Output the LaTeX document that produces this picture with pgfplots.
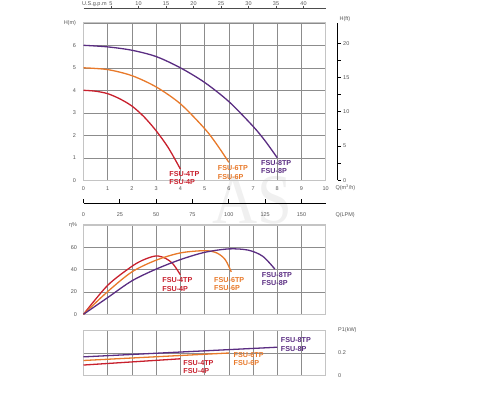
\documentclass[border=0pt]{standalone}
\usepackage{fontspec}
\setmainfont{Liberation Sans}
\newfontfamily\wmfont{Liberation Serif}
\usepackage{pgfplots}
\pgfplotsset{compat=1.18}
\definecolor{cred}{HTML}{C8202D}
\definecolor{corg}{HTML}{E8792A}
\definecolor{cpur}{HTML}{5A2D82}
\definecolor{tickc}{HTML}{555555}
\definecolor{gridc}{HTML}{8C8C8C}
\definecolor{boxc}{HTML}{C4C4C4}
\tikzset{
 lbl/.style={font=\bfseries\fontsize{7.2}{8.2}\selectfont, align=left, anchor=west, inner sep=0pt},
 curve/.style={line width=1.3pt, smooth},
}
\pgfplotsset{
 base/.style={scale only axis, width=242.2pt, xmin=0, xmax=10, xtick={0,...,10},
   grid=major, major grid style={gridc, line width=0.6pt},
   axis line style={boxc, line width=1.2pt}, major tick length=0pt,
   tick label style={font=\fontsize{5.5}{6}\selectfont, text=tickc},
   /pgf/number format/assume math mode=true, clip=false},
 tks/.style={tick label style={font=\fontsize{5.5}{6}\selectfont, text=tickc},
   /pgf/number format/assume math mode=true},
}
\begin{document}
\begin{tikzpicture}
\path[use as bounding box] (0,0) rectangle (500pt,400pt);
\node[text=black!6, font=\wmfont\fontsize{71}{71}\selectfont, xscale=0.88] at (252pt,200pt) {AS};

% ---------- H-Q chart ----------
\begin{axis}[base, at={(83.5pt,219.7pt)}, anchor=south west, height=157.5pt,
  ymin=0, ymax=7, ytick={0,...,7}, yticklabels={0,1,2,3,4,5,6,H(m)},
  yticklabel style={xshift=-4pt}, xticklabel style={yshift=-2.5pt}]
\addplot[curve, cred] coordinates {(0,4)(0.5,3.96)(1,3.85)(1.5,3.62)(2,3.3)(2.5,2.82)(3,2.2)(3.5,1.45)(4,0.5)};
\addplot[curve, corg] coordinates {(0,5)(1,4.92)(2,4.65)(3,4.15)(4,3.4)(5,2.3)(5.5,1.6)(6,0.8)};
\addplot[curve, cpur] coordinates {(0,6)(1,5.93)(2,5.78)(3,5.5)(4,5.0)(5,4.35)(6,3.5)(7,2.4)(7.5,1.75)(8,1.0)};
\node[lbl, text=cred] at (axis cs:3.54,0.1) {FSU-4TP\\FSU-4P};
\node[lbl, text=corg] at (axis cs:5.54,0.35) {FSU-6TP\\FSU-6P};
\node[lbl, text=cpur] at (axis cs:7.33,0.59) {FSU-8TP\\FSU-8P};
\end{axis}

% ---------- H(ft) right axis ----------
\begin{axis}[scale only axis, tks, at={(83.5pt,219.7pt)}, anchor=south west,
  width=254.2pt, height=157.5pt, xmin=0, xmax=1, ymin=0, ymax=22.966,
  axis x line=none, axis y line=right, axis line style={black, line width=1pt, -},
  ytick={0,5,10,15,20}, minor ytick={2.5,7.5,12.5,17.5}, tick align=outside,
  major tick length=3pt, minor tick length=3pt, tick style={black, line width=0.5pt},
  yticklabel style={xshift=-1pt}]
\end{axis}
\node[font=\fontsize{5.5}{6}\selectfont, text=tickc, anchor=west] at (336pt,381pt) {H(ft)};

% ---------- U.S. gpm top axis ----------
\begin{axis}[scale only axis, tks, at={(83.5pt,392pt)}, anchor=north west,
  width=242.2pt, height=1pt, xmin=0, xmax=44.03, ymin=0, ymax=1,
  axis y line=none, axis x line=top, axis line style={black!70, line width=0.6pt, -},
  xtick={5,10,...,40}, tick align=outside, major tick length=2.5pt,
  tick style={black!70, line width=0.5pt}, xticklabel style={yshift=-4pt}]
\end{axis}
\node[font=\fontsize{5.5}{6}\selectfont, text=tickc, anchor=west, inner sep=0pt] at (82pt,395.5pt) {U.S.g.p.m};

% ---------- LPM axis ----------
\begin{axis}[scale only axis, tks, at={(83.5pt,196.7pt)}, anchor=south west,
  width=242.2pt, height=1pt, xmin=0, xmax=166.67, ymin=0, ymax=1,
  axis y line=none, axis x line=bottom, axis line style={black, line width=1.3pt, -},
  xtick={0,25,...,150}, tick align=inside, major tick length=4pt,
  tick style={black, line width=0.8pt}, xticklabel style={yshift=-6pt}]
\end{axis}
\node[font=\fontsize{5.5}{6}\selectfont, text=tickc, anchor=west] at (332pt,212pt) {Q(m\textsuperscript{3}/h)};
\node[font=\fontsize{5.5}{6}\selectfont, text=tickc, anchor=west] at (332pt,185pt) {Q(LPM)};

% ---------- efficiency ----------
\begin{axis}[base, at={(83.5pt,85.7pt)}, anchor=south west, height=89.3pt,
  ymin=0, ymax=80, ytick={0,20,...,80}, yticklabels={0,20,40,60,η\%},
  yticklabel style={xshift=-3pt}, xticklabels={}]
\addplot[curve, cred] coordinates {(0,0)(1,26)(2,43)(2.5,49)(3,52.3)(3.4,50)(3.7,45)(4,35.4)};
\addplot[curve, corg] coordinates {(0,0)(1,20.4)(2,38)(3,48.5)(4,55)(5,57)(5.5,55)(5.85,49)(6.1,38)};
\addplot[curve, cpur] coordinates {(0,0)(1,15)(2,30)(3,40.5)(4,49)(5,55.5)(6,58.6)(6.8,57.5)(7.4,52)(7.9,40.5)};
\node[lbl, text=cred] at (axis cs:3.25,26.7) {FSU-4TP\\FSU-4P};
\node[lbl, text=corg] at (axis cs:5.39,27.3) {FSU-6TP\\FSU-6P};
\node[lbl, text=cpur] at (axis cs:7.36,31.3) {FSU-8TP\\FSU-8P};
\end{axis}

% ---------- power ----------
\begin{axis}[base, at={(83.5pt,24.3pt)}, anchor=south west, height=45.4pt,
  ymin=0, ymax=0.4, ytick={0,0.2,0.4}, yticklabels={0,0.2,P1(kW)},
  yticklabel pos=right, yticklabel style={xshift=9pt, anchor=west}, xticklabels={}]
\addplot[line width=1.3pt, cred] coordinates {(0,0.094)(4,0.149)};
\addplot[line width=1.3pt, corg] coordinates {(0,0.134)(6,0.2)};
\addplot[line width=1.3pt, cpur] coordinates {(0,0.166)(8,0.251)};
\node[lbl, text=cred] at (axis cs:4.12,0.079) {FSU-4TP\\FSU-4P};
\node[lbl, text=corg] at (axis cs:6.19,0.147) {FSU-6TP\\FSU-6P};
\node[lbl, text=cpur] at (axis cs:8.14,0.275) {FSU-8TP\\FSU-8P};
\end{axis}
\end{tikzpicture}
\end{document}
